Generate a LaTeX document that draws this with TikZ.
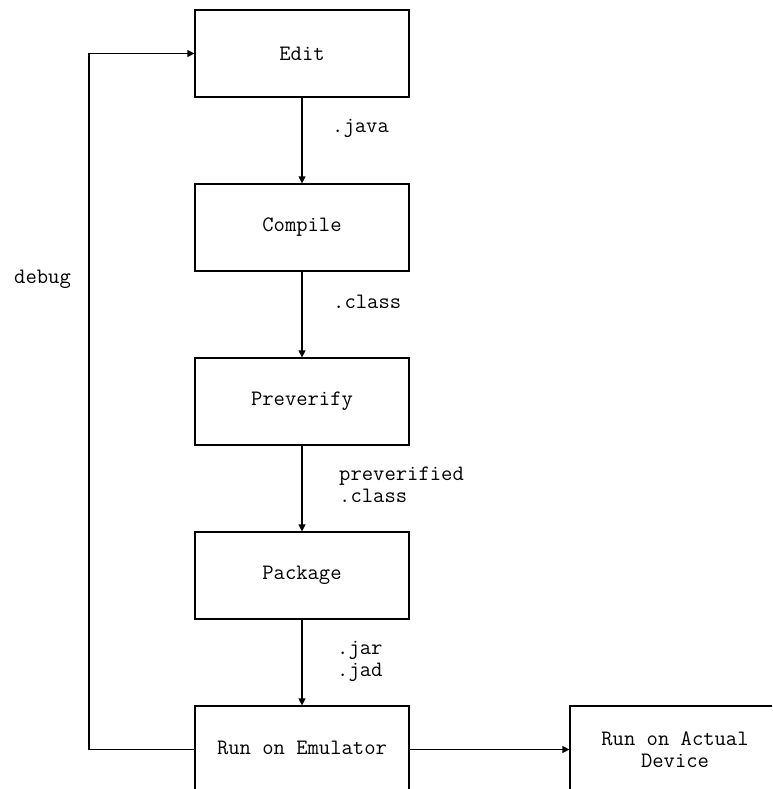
\documentclass[tikz,border=0pt]{standalone}
\usetikzlibrary{arrows.meta}
\begin{document}
\begin{tikzpicture}[x=1pt,y=-1pt,
  txt/.style={font=\fontsize{22}{24}\selectfont\ttfamily},
  stage/.style={draw,line width=1.2pt,minimum width=214pt,minimum height=87pt,inner sep=0pt,txt,align=center},
  flow/.style={line width=1.2pt,-{Triangle[length=7pt,width=7pt]}},
  tag/.style={anchor=west,inner sep=0pt,txt,align=left}]
  \useasboundingbox (0,0) rectangle (772,789);
  \clip (0,0) rectangle (772,789);
  \fill[white] (0,0) rectangle (772,789);
  % process stages
  \node[stage] (edit)    at (302,53.5)  {Edit};
  \node[stage] (compile) at (302,227.5) {Compile};
  \node[stage] (prever)  at (302,401.5) {Preverify};
  \node[stage] (pack)    at (302,575.5) {Package};
  \node[stage] (emu)     at (302,749.5) {};
  \node[stage] (dev)     at (677,749.5) {};
  \node[txt,inner sep=0pt] (emutext) at (302,748) {Run on Emulator};
  \node[txt,inner sep=0pt,align=center] (devtext) at (675,750) {Run on Actual\\[-2pt]Device};
  % main flow
  \draw[flow] (edit) -- (compile);
  \draw[flow] (compile) -- (prever);
  \draw[flow] (prever) -- (pack);
  \draw[flow] (pack) -- (emu);
  \draw[flow] (emu.east) -- (dev.west);
  % debug loop
  \coordinate (loopb) at (89,749.5);
  \coordinate (loopt) at (89,53.5);
  \draw[flow] (emu.west) -- (loopb) -- (loopt) -- (edit.west);
  % file-type labels
  \node[tag] (ljava) at (332,128) {.java};
  \node[tag] (lclass) at (333,302) {.class};
  \node[tag] (lpre) at (339,485) {preverified\\[-2pt].class};
  \node[tag] (ljar) at (337,661) {.jar\\[-2pt].jad};
  \node[tag] (ldebug) at (14,279) {debug};
\end{tikzpicture}
\end{document}
